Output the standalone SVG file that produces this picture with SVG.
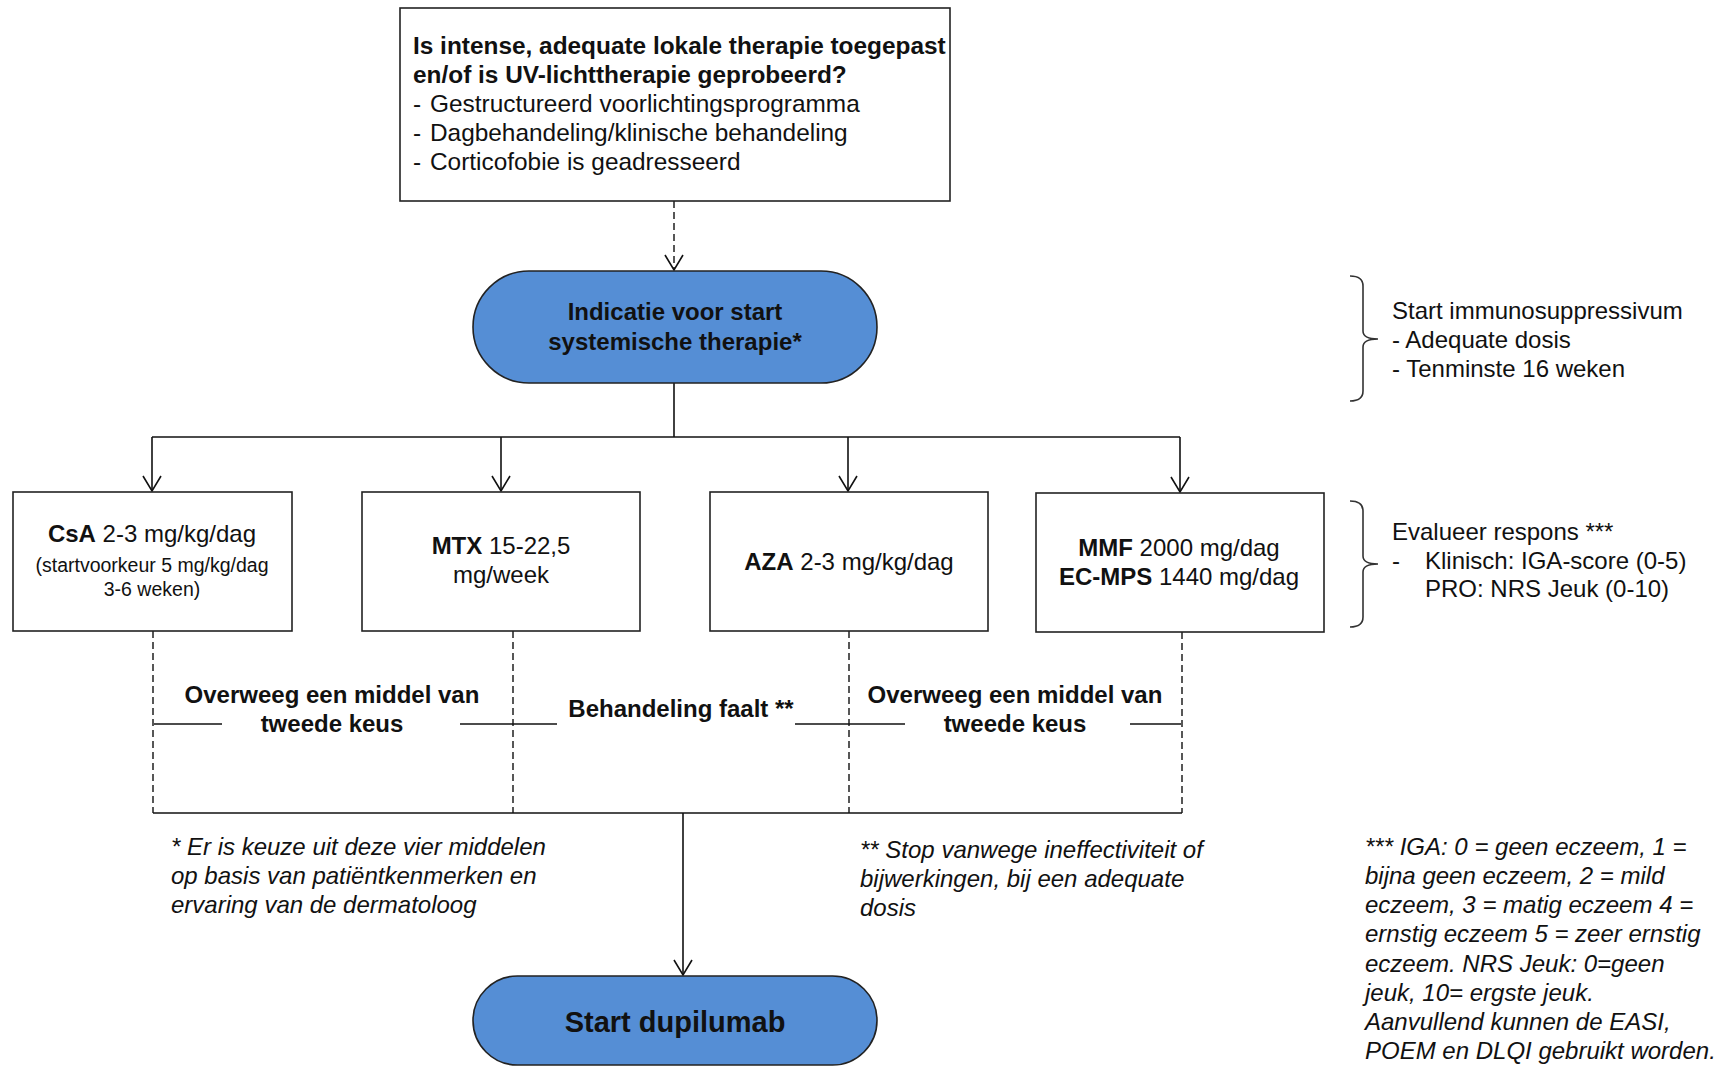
<svg xmlns="http://www.w3.org/2000/svg" width="1727" height="1067" viewBox="0 0 1727 1067">
<style>
text{font-family:"Liberation Sans",Arial,sans-serif;fill:#111;font-size:24px}
.b{font-weight:bold}
.c{text-anchor:middle}
.i{font-style:italic}
.sm{font-size:19.5px}
.q{font-size:24.4px}
.box{fill:#fff;stroke:#222;stroke-width:1.6}
.pill{fill:#558ED5;stroke:#222;stroke-width:1.6}
.ln{fill:none;stroke:#111;stroke-width:1.6}
.dash{fill:none;stroke:#111;stroke-width:1.4;stroke-dasharray:7 4}
.brace{fill:none;stroke:#333;stroke-width:1.6}
</style>
<defs>
<marker id="arr" markerUnits="userSpaceOnUse" markerWidth="20" markerHeight="20" refX="16" refY="10" orient="auto" overflow="visible">
<path d="M1,1 L16,10 L1,19" fill="none" stroke="#111" stroke-width="1.6"/>
</marker>
</defs>
<rect width="1727" height="1067" fill="#fff"/>

<g id="connectors">
<line class="dash" x1="674" y1="201" x2="674" y2="270" marker-end="url(#arr)"/>
<polyline class="ln" points="674,383 674,437"/>
<line class="ln" x1="152" y1="437" x2="1180" y2="437"/>
<line class="ln" x1="152" y1="437" x2="152" y2="491" marker-end="url(#arr)"/>
<line class="ln" x1="501" y1="437" x2="501" y2="491" marker-end="url(#arr)"/>
<line class="ln" x1="848" y1="437" x2="848" y2="491" marker-end="url(#arr)"/>
<line class="ln" x1="1180" y1="437" x2="1180" y2="492" marker-end="url(#arr)"/>
<line class="dash" x1="153" y1="631" x2="153" y2="813"/>
<line class="dash" x1="513" y1="631" x2="513" y2="813"/>
<line class="dash" x1="849" y1="631" x2="849" y2="813"/>
<line class="dash" x1="1182" y1="632" x2="1182" y2="813"/>
<line class="ln" x1="153" y1="813" x2="1182" y2="813"/>
<line class="ln" x1="154" y1="724" x2="222" y2="724"/>
<line class="ln" x1="460" y1="724" x2="557" y2="724"/>
<line class="ln" x1="795" y1="724" x2="905" y2="724"/>
<line class="ln" x1="1130" y1="724" x2="1181" y2="724"/>
<line class="ln" x1="683" y1="813" x2="683" y2="975" marker-end="url(#arr)"/>
</g>

<g id="question">
<rect class="box" x="400" y="8" width="550" height="193"/>
<text class="b q" x="413" y="54">Is intense, adequate lokale therapie toegepast</text>
<text class="b q" x="413" y="83">en/of is UV-lichttherapie geprobeerd?</text>
<text class="q" y="112"><tspan x="413">-</tspan><tspan x="430">Gestructureerd voorlichtingsprogramma</tspan></text>
<text class="q" y="141"><tspan x="413">-</tspan><tspan x="430">Dagbehandeling/klinische behandeling</tspan></text>
<text class="q" y="170"><tspan x="413">-</tspan><tspan x="430">Corticofobie is geadresseerd</tspan></text>
</g>

<g id="indicatie">
<rect class="pill" x="473" y="271" width="404" height="112" rx="56" ry="56"/>
<text class="b c" x="675" y="320">Indicatie voor start</text>
<text class="b c" x="675" y="350">systemische therapie*</text>
</g>

<g id="csa">
<rect class="box" x="13" y="492" width="279" height="139"/>
<text class="c" x="152" y="542"><tspan class="b">CsA</tspan> 2-3 mg/kg/dag</text>
<text class="c sm" x="152" y="572">(startvoorkeur 5 mg/kg/dag</text>
<text class="c sm" x="152" y="596">3-6 weken)</text>
</g>

<g id="mtx">
<rect class="box" x="362" y="492" width="278" height="139"/>
<text class="c" x="501" y="554"><tspan class="b">MTX</tspan> 15-22,5</text>
<text class="c" x="501" y="583">mg/week</text>
</g>

<g id="aza">
<rect class="box" x="710" y="492" width="278" height="139"/>
<text class="c" x="849" y="570"><tspan class="b">AZA</tspan> 2-3 mg/kg/dag</text>
</g>

<g id="mmf">
<rect class="box" x="1036" y="493" width="288" height="139"/>
<text class="c" x="1179" y="556"><tspan class="b">MMF</tspan> 2000 mg/dag</text>
<text class="c" x="1179" y="585"><tspan class="b">EC-MPS</tspan> 1440 mg/dag</text>
</g>

<g id="label-left">
<text class="b c" x="332" y="703">Overweeg een middel van</text>
<text class="b c" x="332" y="732">tweede keus</text>
</g>
<g id="label-mid">
<text class="b c" x="681" y="717">Behandeling faalt **</text>
</g>
<g id="label-right">
<text class="b c" x="1015" y="703">Overweeg een middel van</text>
<text class="b c" x="1015" y="732">tweede keus</text>
</g>

<g id="dupilumab">
<rect class="pill" x="473" y="976" width="404" height="89" rx="44.5" ry="44.5"/>
<text class="b c" x="675" y="1032" style="font-size:29px">Start dupilumab</text>
</g>

<g id="note-start">
<path class="brace" d="M1350,276 Q1363,276 1363,286 V331 Q1363,339 1378,339 Q1363,339 1363,347 V391 Q1363,401 1350,401"/>
<text x="1392" y="319">Start immunosuppressivum</text>
<text x="1392" y="348">- Adequate dosis</text>
<text x="1392" y="377">- Tenminste 16 weken</text>
</g>

<g id="note-eval">
<path class="brace" d="M1350,501 Q1363,501 1363,511 V556 Q1363,564 1378,564 Q1363,564 1363,572 V617 Q1363,627 1350,627"/>
<text x="1392" y="540">Evalueer respons ***</text>
<text y="569"><tspan x="1392">-</tspan><tspan x="1425">Klinisch: IGA-score (0-5)</tspan></text>
<text x="1425" y="597">PRO: NRS Jeuk (0-10)</text>
</g>

<g id="footnote1">
<text class="i" x="171" y="855">* Er is keuze uit deze vier middelen</text>
<text class="i" x="171" y="884">op basis van patiëntkenmerken en</text>
<text class="i" x="171" y="913">ervaring van de dermatoloog</text>
</g>

<g id="footnote2">
<text class="i" x="860" y="858">** Stop vanwege ineffectiviteit of</text>
<text class="i" x="860" y="887">bijwerkingen, bij een adequate</text>
<text class="i" x="860" y="916">dosis</text>
</g>

<g id="footnote3">
<text class="i" x="1365" y="855">*** IGA: 0 = geen eczeem, 1 =</text>
<text class="i" x="1365" y="884">bijna geen eczeem, 2 = mild</text>
<text class="i" x="1365" y="913">eczeem, 3 = matig eczeem 4 =</text>
<text class="i" x="1365" y="942">ernstig eczeem 5 = zeer ernstig</text>
<text class="i" x="1365" y="972">eczeem. NRS Jeuk: 0=geen</text>
<text class="i" x="1365" y="1001">jeuk, 10= ergste jeuk.</text>
<text class="i" x="1365" y="1030">Aanvullend kunnen de EASI,</text>
<text class="i" x="1365" y="1059">POEM en DLQI gebruikt worden.</text>
</g>
</svg>
